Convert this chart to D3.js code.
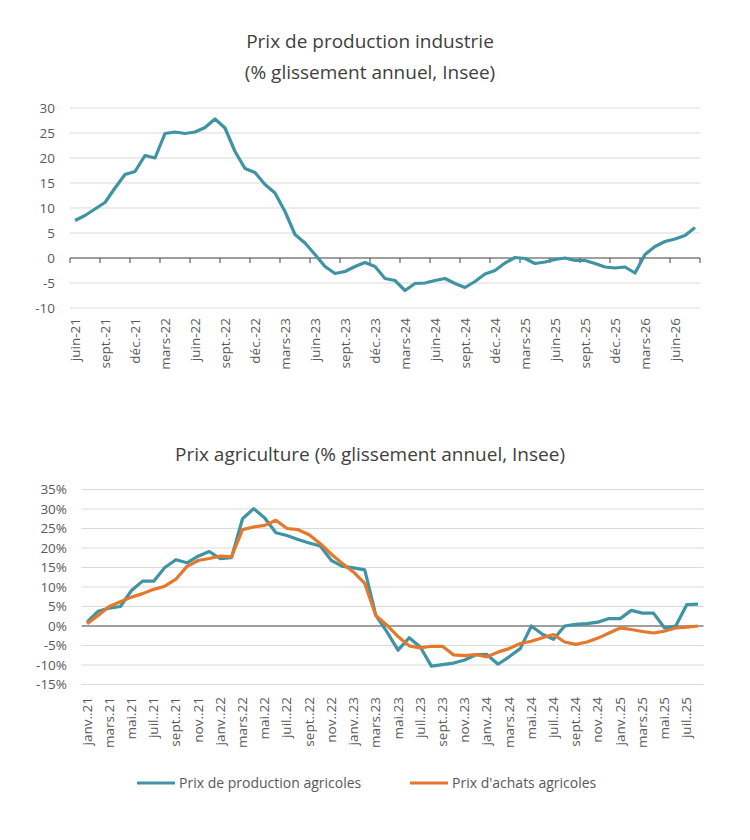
<!DOCTYPE html>
<html><head><meta charset="utf-8">
<script src="https://cdn.jsdelivr.net/npm/d3@7"></script>
<style>body{margin:0;background:#fff}text{font-family:"Open Sans",Lato,sans-serif}</style>
</head><body><svg id="c" width="750" height="840"></svg>
<script>
const indMonths = ["janv.","févr.","mars","avr.","mai","juin","juil.","août","sept.","oct.","nov.","déc."];
const indStart = {year:21, month:5};
const indValues = [7.5,8.5,9.8,11.1,14,16.7,17.3,20.5,20,24.9,25.2,24.9,25.2,26.1,27.8,26,21.3,17.9,17.1,14.7,13,9.3,4.7,3,0.7,-1.7,-3.1,-2.7,-1.7,-0.9,-1.7,-4.1,-4.5,-6.5,-5.1,-5,-4.5,-4.1,-5.1,-5.9,-4.7,-3.2,-2.5,-1,0.1,-0.1,-1.1,-0.8,-0.3,0,-0.5,-0.5,-1.1,-1.8,-2,-1.8,-3,0.7,2.3,3.3,3.8,4.5,6.1];
const indTicks = [30,25,20,15,10,5,0,-5,-10];
const agriMonthNames = ["janv..","févr..","mars.","avr..","mai.","juin.","juil..","août.","sept..","oct..","nov..","déc.."];
const agriProd = [1,3.8,4.6,5,9.1,11.5,11.5,15,17,16.2,17.9,19.1,17.3,17.5,27.5,30.1,27.7,23.9,23.2,22.2,21.3,20.5,16.8,15.3,14.9,14.4,2.7,-1.5,-6.2,-3,-5.4,-10.3,-9.9,-9.5,-8.7,-7.4,-7.3,-9.8,-7.9,-5.8,0,-2.1,-3.4,0,0.4,0.6,1,1.9,1.9,4,3.3,3.3,-0.5,0,5.5,5.6];
const agriAchat = [0.6,2.7,5,6.2,7.4,8.3,9.4,10.2,12,15.3,16.8,17.3,17.9,17.7,24.7,25.4,25.8,27.1,25,24.7,23.4,21.1,18.4,16,13.8,10.9,2.7,0.2,-2.7,-5.1,-5.6,-5.2,-5.2,-7.4,-7.6,-7.3,-7.9,-6.7,-5.8,-4.5,-3.9,-3,-2.2,-4.1,-4.7,-4.1,-3.1,-1.8,-0.5,-0.9,-1.4,-1.8,-1.3,-0.5,-0.3,0];
const agriTicks = [35,30,25,20,15,10,5,0,-5,-10,-15];
const seriesNames = ["Prix de production agricoles","Prix d'achats agricoles"];

const BLUE="#3f93a2", ORANGE="#e4782c", GRID="#d9d9d9", TXT="#595959";
const svg = d3.select("#c");
function title(t,y,s){svg.append("text").attr("x",370).attr("y",y).attr("text-anchor","middle").attr("font-size",s||19).attr("fill","#404040").text(t);}
title("Prix de production industrie",48);
title("(% glissement annuel, Insee)",79);
title("Prix agriculture (% glissement annuel, Insee)",461);

// top chart
const indLabels = indValues.map((v,i)=>{const k=indStart.month+i; return indMonths[k%12]+"-"+(indStart.year+Math.floor(k/12));});
const x1 = d3.scaleBand().domain(indLabels).range([70,700]);
const y1 = d3.scaleLinear().domain([-10,30]).range([308,108]);
const g1 = svg.append("g");
indTicks.forEach(t=>{ if(t!==0) g1.append("line").attr("x1",70).attr("x2",700).attr("y1",y1(t)).attr("y2",y1(t)).attr("stroke",GRID).attr("stroke-width",1.2);
 g1.append("text").attr("x",55).attr("y",y1(t)+4.5).attr("text-anchor","end").attr("font-size",13.5).attr("fill",TXT).text(t);});
g1.append("line").attr("x1",70).attr("x2",700).attr("y1",y1(0)).attr("y2",y1(0)).attr("stroke","#404040").attr("stroke-width",1.2);
indLabels.forEach((l,i)=>{ if(i%3===0){ const xb=x1(l);
 g1.append("line").attr("x1",xb).attr("x2",xb).attr("y1",y1(0)).attr("y2",y1(0)+5).attr("stroke","#404040");
 g1.append("text").attr("transform",`translate(${xb+x1.bandwidth()/2+4.5},318) rotate(-90)`).attr("text-anchor","end").attr("font-size",13.5).attr("fill",TXT).text(l);}});
g1.append("line").attr("x1",700).attr("x2",700).attr("y1",y1(0)).attr("y2",y1(0)+5).attr("stroke","#404040");
g1.append("path").datum(indValues).attr("fill","none").attr("stroke",BLUE).attr("stroke-width",3.2).attr("stroke-linejoin","round")
 .attr("d",d3.line().x((d,i)=>x1(indLabels[i])+x1.bandwidth()/2).y(d=>y1(d)));

// bottom chart
const agriLabels = agriProd.map((v,i)=>agriMonthNames[i%12]+(21+Math.floor(i/12)));
const x2 = d3.scaleBand().domain(agriLabels).range([81.5,703.5]);
const y2 = d3.scaleLinear().domain([-15,35]).range([684.5,489.5]);
const g2 = svg.append("g");
agriTicks.forEach(t=>{ if(t!==0) g2.append("line").attr("x1",81.5).attr("x2",703.5).attr("y1",y2(t)).attr("y2",y2(t)).attr("stroke",GRID).attr("stroke-width",1.2);
 g2.append("text").attr("x",67).attr("y",y2(t)+4.5).attr("text-anchor","end").attr("font-size",13.5).attr("fill",TXT).text(t+"%");});
g2.append("line").attr("x1",81.5).attr("x2",703.5).attr("y1",y2(0)).attr("y2",y2(0)).attr("stroke","#404040").attr("stroke-width",1.2);
agriLabels.forEach((l,i)=>{ if(i%2===0){ const xc=x2(l)+x2.bandwidth()/2;
 g2.append("text").attr("transform",`translate(${xc+4.5},697) rotate(-90)`).attr("text-anchor","end").attr("font-size",13.5).attr("fill",TXT).text(l);}});
const ln = d3.line().x((d,i)=>x2(agriLabels[i])+x2.bandwidth()/2).y(d=>y2(d));
g2.append("path").datum(agriProd).attr("fill","none").attr("stroke",BLUE).attr("stroke-width",3.2).attr("stroke-linejoin","round").attr("d",ln);
g2.append("path").datum(agriAchat).attr("fill","none").attr("stroke",ORANGE).attr("stroke-width",3.2).attr("stroke-linejoin","round").attr("d",ln);
// legend
[[BLUE,137,seriesNames[0]],[ORANGE,410,seriesNames[1]]].forEach(([c,x,t])=>{
 svg.append("line").attr("x1",x).attr("x2",x+38).attr("y1",783).attr("y2",783).attr("stroke",c).attr("stroke-width",3.2);
 svg.append("text").attr("x",x+42).attr("y",788).attr("font-size",14).attr("fill",TXT).text(t);});
</script></body></html>
